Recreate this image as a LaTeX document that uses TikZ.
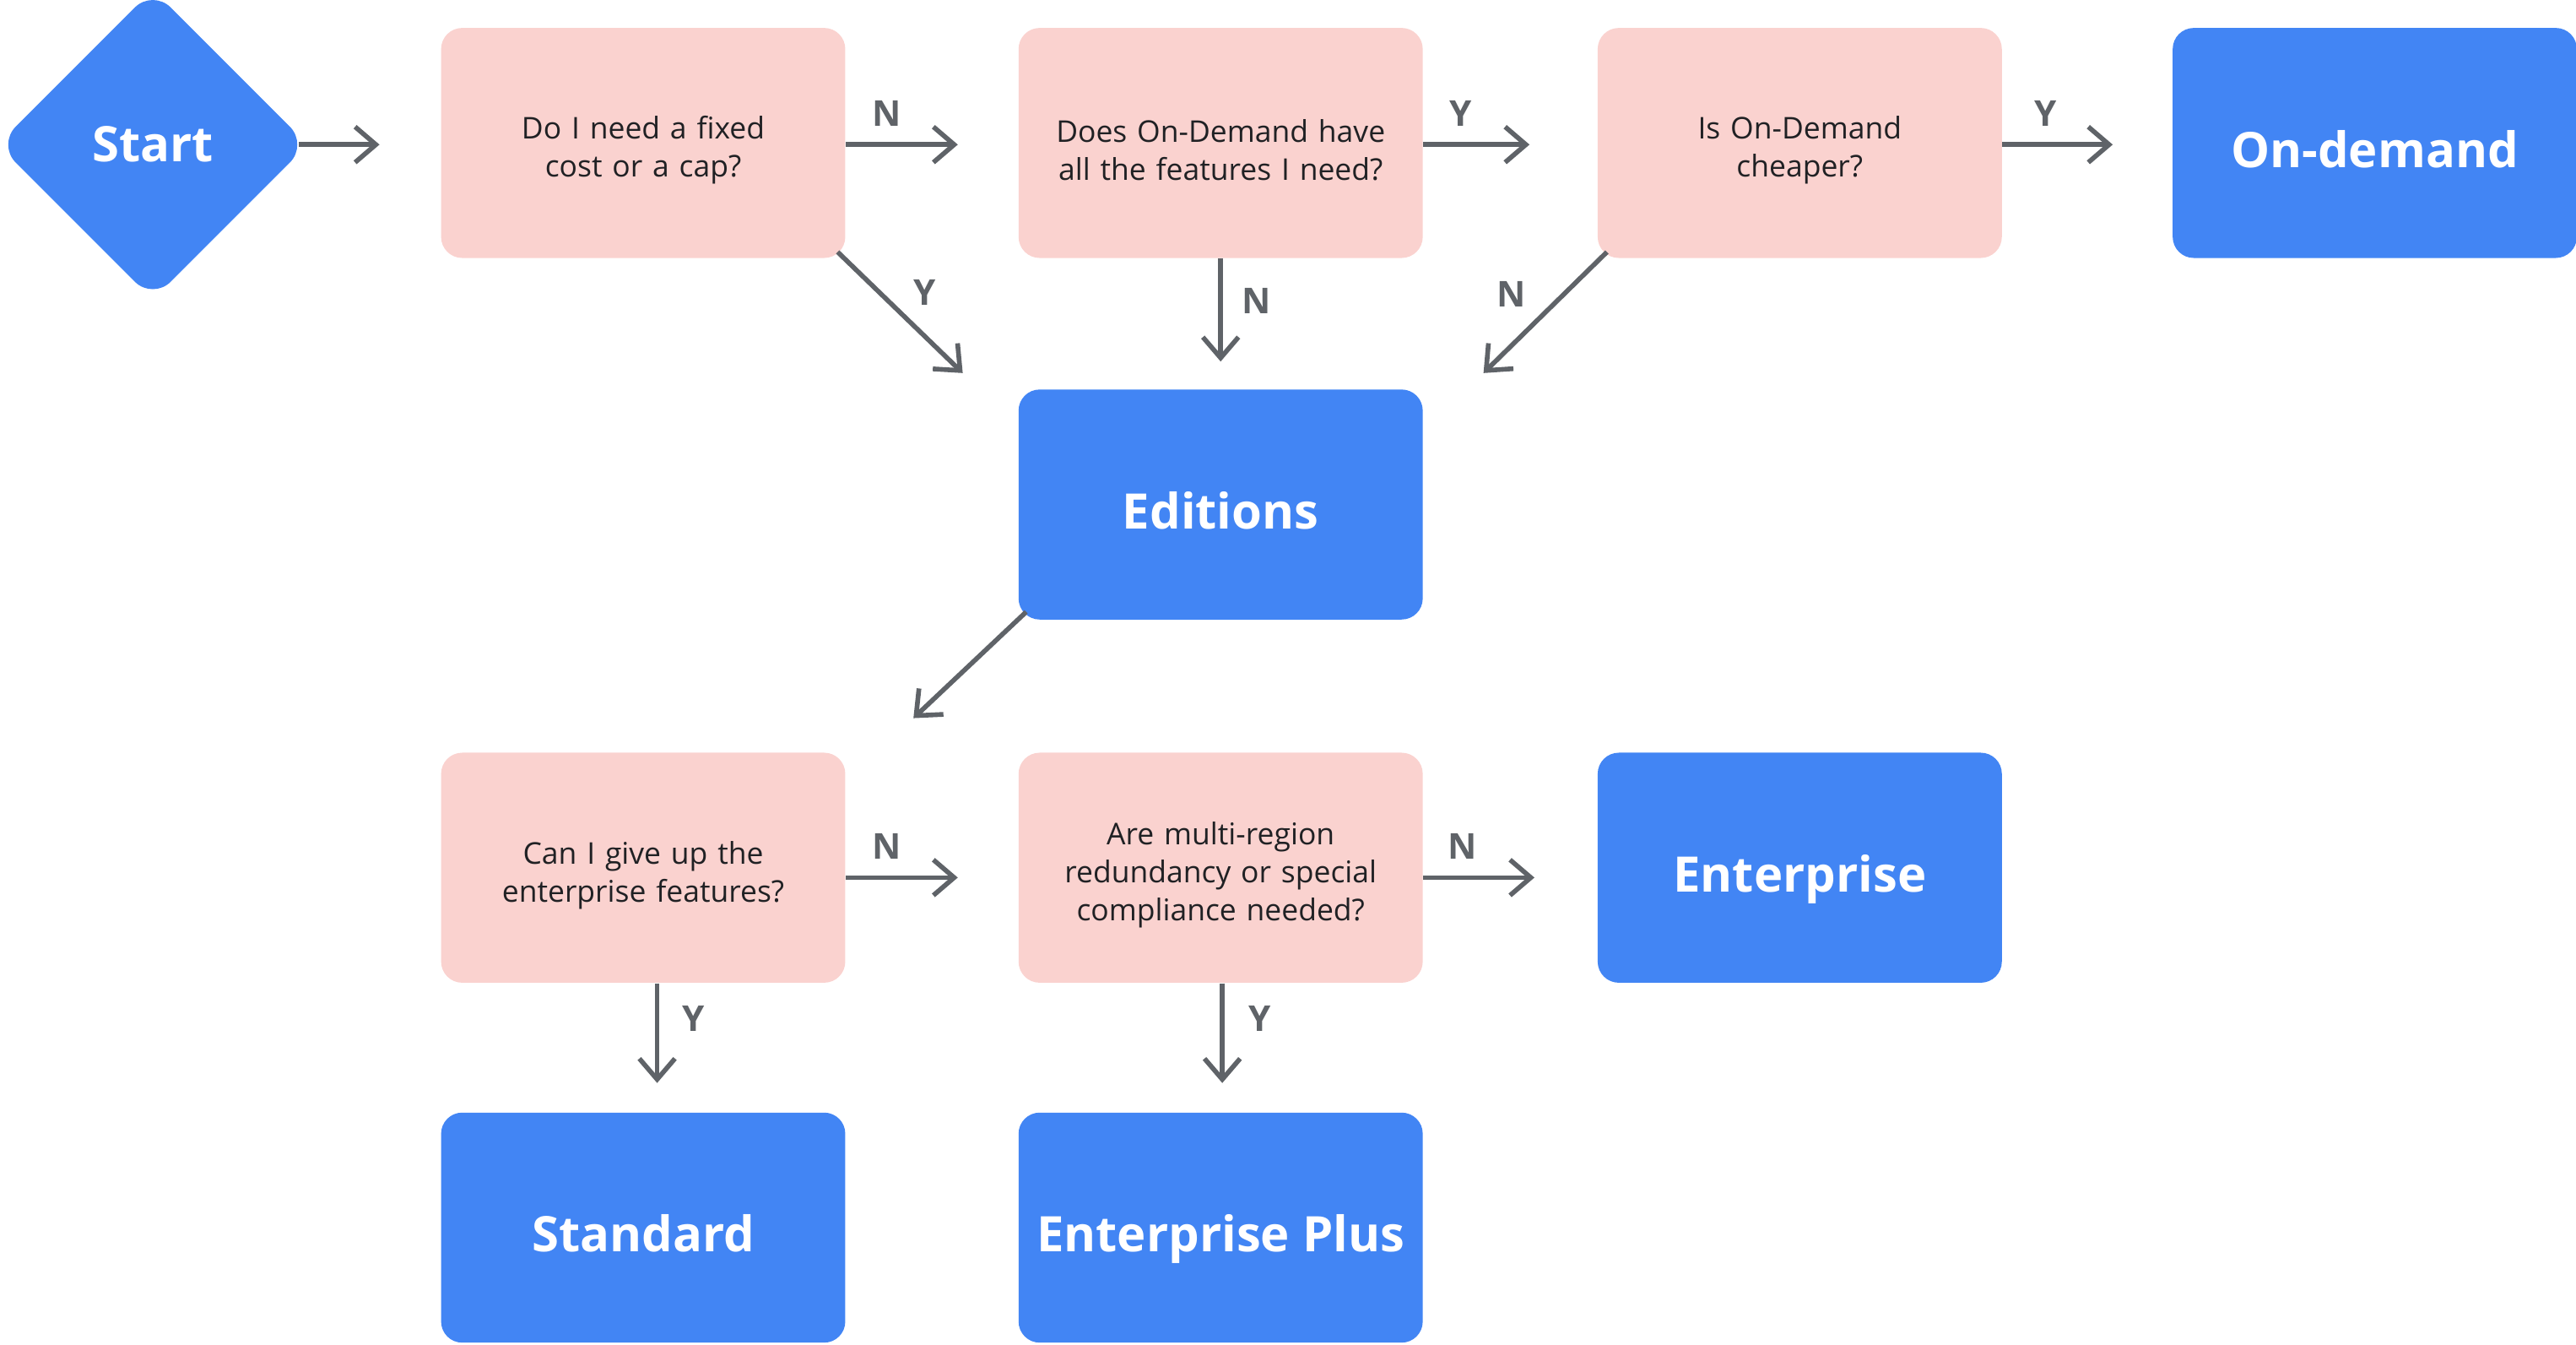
\documentclass[tikz,border=0pt]{standalone}
\usepackage{fontspec}
\setmainfont{Open Sans}
\usetikzlibrary{shapes.geometric,arrows.meta,calc}
\definecolor{qpink}{HTML}{FAD2CF}
\definecolor{gblue}{HTML}{4285F4}
\definecolor{agray}{HTML}{5F6368}
\definecolor{tdark}{HTML}{202124}
\begin{document}
\begin{tikzpicture}[x=0.019464cm,y=-0.019464cm,
  qbox/.style={fill=qpink, rounded corners=0.25cm, minimum width=4.79cm, minimum height=2.725cm,
    inner sep=0pt, text width=4.4cm, align=center, text=tdark,
    font=\fontsize{10.1}{12.8}\selectfont, execute at begin node={\rule{0pt}{\dimexpr\ht\strutbox+0.13cm\relax}}},
  abox/.style={fill=gblue, rounded corners=0.25cm, minimum width=4.79cm, minimum height=2.725cm,
    inner sep=0pt, align=center, text=white, text height=0.7cm, text depth=0.12cm,
    font=\fontsize{16.5}{20}\selectfont\bfseries},
  arr/.style={draw=agray, line width=1.6pt, -{Straight Barb[length=7pt,width=12pt,line width=1.6pt]}},
  lbl/.style={text=agray, font=\fontsize{12}{14}\selectfont\bfseries, inner sep=0pt}
]
\useasboundingbox (0,0) rectangle (1568,818);

% nodes
\node[diamond, aspect=1, fill=gblue, rounded corners=0.3cm, minimum width=3.68cm, minimum height=3.68cm,
  inner sep=0pt, text=white, font=\fontsize{16.5}{20}\selectfont\bfseries] (start) at (93,88) {Start};
\node[qbox] (q1) at (391.5,87) {Do I need a fixed\\cost or a cap?};
\node[qbox] (q2) at (743,87) {Does On-Demand have\\all the features I need?};
\node[qbox] (q3) at (1095.5,87) {Is On-Demand\\cheaper?};
\node[abox] (od) at (1445.5,87) {On-demand};
\node[abox] (ed) at (743,307) {Editions};
\node[qbox] (q4) at (391.5,528) {Can I give up the\\enterprise features?};
\node[qbox] (q5) at (743,528) {Are multi-region\\redundancy or special\\compliance needed?};
\node[abox] (ent) at (1095.5,528) {Enterprise};
\node[abox] (std) at (391.5,747) {Standard};
\node[abox] (ep) at (743,747) {Enterprise Plus};

% free ends
\coordinate (e0) at (231,88);
\coordinate (e1) at (583,88);
\coordinate (e2) at (931,88);
\coordinate (e3) at (1286,88);
\coordinate (e1d) at (586,227);
\coordinate (e2d) at (743,220);
\coordinate (e3d) at (903,227);
\coordinate (eed) at (556,437);
\coordinate (e4) at (583,534);
\coordinate (e5) at (934,534);
\coordinate (e4d) at (400,659);
\coordinate (e5d) at (744,659);

% connectors
\draw[arr] ($(start.east)+(-6,0)$) -- (e0);
\draw[arr] (q1.east |- e1) -- (e1);
\draw[arr] (q2.east |- e2) -- (e2);
\draw[arr] (q3.east |- e3) -- (e3);
\draw[arr] ($(q1.south east)+(-5,-4)$) -- (e1d);
\draw[arr] (q2.south) -- (e2d);
\draw[arr] ($(q3.south west)+(6,-4)$) -- (e3d);
\draw[arr] ($(ed.south west)+(5,-5)$) -- (eed);
\draw[arr] (q4.east |- e4) -- (e4);
\draw[arr] (q5.east |- e5) -- (e5);
\draw[arr] (q4.south -| e4d) -- (e4d);
\draw[arr] (q5.south -| e5d) -- (e5d);

% labels
\node[lbl] (l1) at (540,69) {N};
\node[lbl] (l2) at (889,69) {Y};
\node[lbl] (l3) at (1245,69) {Y};
\node[lbl] (l4) at (563,178) {Y};
\node[lbl] (l5) at (765,183) {N};
\node[lbl] (l6) at (920,179) {N};
\node[lbl] (l7) at (540,515) {N};
\node[lbl] (l8) at (890,515) {N};
\node[lbl] (l9) at (422,620) {Y};
\node[lbl] (l10) at (767,620) {Y};
\end{tikzpicture}
\end{document}
